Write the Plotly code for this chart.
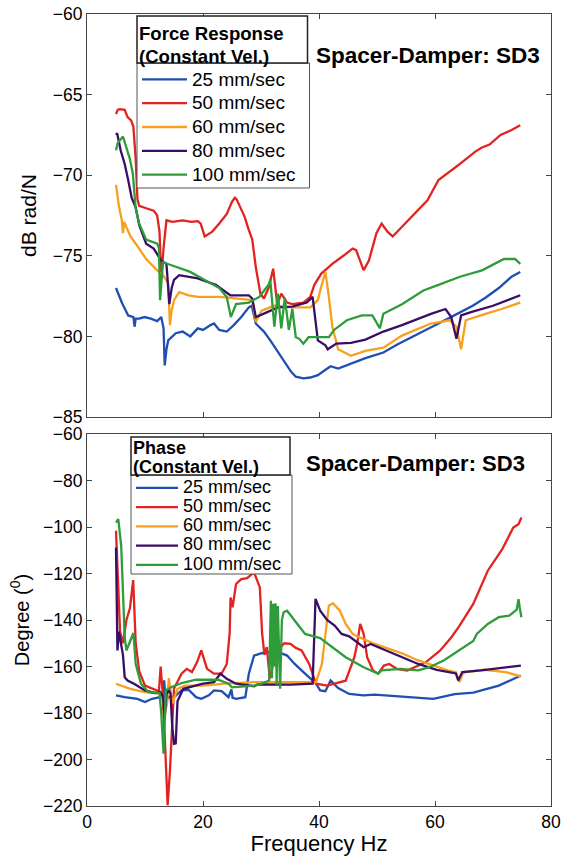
import plotly.graph_objects as go

# ---------------- data ----------------
labels = ["25 mm/sec", "50 mm/sec", "60 mm/sec", "80 mm/sec", "100 mm/sec"]
colors = ["#1f4fb0", "#e2231f", "#f7a01e", "#3a0d68", "#2f9c3a"]

# Force response (dB rad/N)
f_mag_25 = [5.0, 5.4, 6.0, 7.1, 8.0, 8.2, 8.4, 9.0, 9.9, 11.0, 12.1, 12.8, 13.2, 13.4, 13.7, 14.0, 15.3, 16.5, 17.8, 19.1, 20.0, 21.3, 21.9, 22.8, 24.1, 25.3, 26.6, 27.9, 28.4, 29.1, 30.5, 31.6, 33.0, 34.2, 35.2, 36.0, 37.3, 38.5, 39.8, 41.0, 42.0, 43.3, 45.5, 48.0, 51.1, 53.5, 56.2, 58.5, 60.6, 62.5, 64.3, 66.5, 68.7, 71.0, 73.2, 74.7]
mag_25 = [-77.0, -77.4, -77.9, -78.7, -78.8, -79.4, -78.9, -78.9, -78.8, -78.9, -79.05, -78.8, -79.5, -81.8, -80.8, -80.25, -79.8, -79.7, -80.0, -79.5, -79.6, -79.3, -79.2, -79.6, -79.7, -79.3, -78.8, -78.2, -78.1, -79.2, -79.7, -80.25, -81.0, -81.7, -82.2, -82.5, -82.6, -82.55, -82.4, -82.1, -81.85, -82.0, -81.7, -81.35, -81.0, -80.5, -80.0, -79.6, -79.2, -78.85, -78.5, -78.1, -77.6, -77.0, -76.3, -76.0]

f_mag_50 = [5.0, 5.3, 5.6, 6.5, 7.0, 7.6, 8.0, 8.4, 8.7, 9.0, 10.2, 11.5, 12.1, 12.5, 12.8, 13.2, 13.7, 14.7, 16.5, 18.0, 19.1, 19.6, 20.3, 21.6, 22.8, 24.1, 25.0, 25.5, 25.8, 26.3, 27.2, 27.9, 28.5, 29.1, 29.9, 30.5, 31.3, 32.1, 32.8, 33.5, 34.5, 35.4, 37.3, 38.5, 39.2, 40.4, 42.3, 44.2, 45.8, 46.4, 47.1, 47.7, 48.6, 49.9, 50.8, 51.8, 52.7, 54.3, 56.8, 58.7, 60.6, 62.5, 64.3, 66.9, 68.0, 69.4, 71.3, 73.2, 74.7]
mag_50 = [-66.2, -65.95, -65.9, -65.95, -66.4, -66.6, -67.0, -69.0, -71.5, -71.9, -72.05, -72.2, -72.5, -73.5, -76.4, -74.5, -72.8, -72.9, -72.8, -72.9, -72.85, -73.0, -73.8, -73.5, -73.0, -72.4, -71.65, -71.4, -71.5, -71.9, -72.6, -73.4, -74.0, -75.7, -77.35, -77.65, -77.0, -75.8, -78.0, -77.35, -77.9, -78.0, -77.9, -77.55, -76.8, -76.1, -75.5, -75.0, -74.55, -74.65, -75.3, -75.9, -75.3, -73.6, -73.0, -73.5, -73.8, -73.2, -72.2, -71.55, -70.3, -69.8, -69.3, -68.55, -68.3, -68.1, -67.5, -67.2, -66.9]

f_mag_60 = [5.0, 5.3, 5.5, 6.0, 6.2, 6.4, 6.8, 7.5, 8.4, 10.2, 12.1, 13.1, 14.0, 14.3, 14.6, 15.0, 15.9, 17.5, 19.1, 22.8, 26.0, 28.5, 29.1, 30.1, 32.3, 35.4, 38.5, 39.8, 40.4, 41.1, 41.7, 42.3, 43.3, 45.5, 48.0, 51.1, 54.3, 57.0, 59.3, 62.5, 63.7, 64.5, 65.3, 68.7, 71.5, 74.7]
mag_60 = [-70.6, -71.6, -71.9, -72.8, -73.6, -72.9, -73.2, -73.8, -74.25, -75.2, -75.9, -76.2, -76.7, -79.3, -78.4, -77.75, -77.25, -77.45, -77.55, -77.55, -77.65, -77.75, -79.1, -78.4, -78.1, -78.2, -78.2, -77.75, -76.9, -76.0, -77.55, -79.4, -80.8, -81.2, -80.9, -80.7, -79.95, -79.55, -79.2, -79.0, -79.4, -80.8, -79.0, -78.6, -78.3, -77.9]

f_mag_80 = [5.0, 5.2, 5.8, 6.5, 7.1, 7.7, 8.4, 9.0, 10.2, 11.5, 12.8, 13.7, 14.2, 14.6, 15.0, 15.9, 19.1, 22.2, 24.7, 27.9, 28.5, 29.1, 30.4, 32.9, 35.4, 37.9, 38.9, 39.2, 39.8, 41.1, 41.5, 43.0, 45.5, 48.0, 51.1, 54.3, 59.3, 61.8, 62.8, 63.7, 64.5, 66.2, 70.0, 74.7]
mag_80 = [-67.5, -67.4, -68.45, -69.3, -70.3, -71.4, -72.0, -73.1, -74.25, -74.55, -75.3, -75.5, -78.0, -77.0, -76.5, -76.2, -76.4, -76.8, -77.45, -77.45, -77.65, -78.8, -78.6, -78.2, -78.15, -77.9, -77.55, -78.6, -80.25, -80.55, -80.8, -80.45, -80.4, -80.2, -79.7, -79.3, -78.6, -78.3, -78.8, -80.15, -78.7, -78.5, -78.1, -77.45]

f_mag_100 = [5.0, 5.3, 6.2, 6.8, 7.4, 7.9, 8.4, 9.0, 10.2, 12.1, 12.4, 12.6, 12.9, 13.1, 14.7, 17.8, 20.3, 22.8, 24.1, 24.8, 25.7, 27.9, 29.7, 31.3, 31.6, 32.3, 32.9, 33.5, 34.1, 34.8, 35.4, 36.0, 36.6, 37.3, 38.2, 39.8, 41.7, 42.6, 44.8, 47.4, 49.2, 50.5, 51.1, 54.3, 58.0, 60.6, 64.3, 68.1, 71.9, 73.8, 74.7]
mag_100 = [-68.45, -68.0, -67.6, -68.35, -69.0, -69.9, -72.07, -73.0, -74.0, -74.25, -74.5, -77.75, -76.0, -75.4, -75.6, -76.0, -76.5, -77.0, -77.55, -78.8, -78.0, -77.9, -77.55, -76.8, -76.5, -79.4, -77.35, -79.5, -77.6, -79.6, -78.3, -80.05, -80.15, -80.45, -80.05, -80.05, -80.05, -79.6, -79.0, -78.7, -78.7, -79.5, -78.6, -78.0, -77.15, -76.8, -76.3, -75.9, -75.2, -75.2, -75.5]

# Phase (degree)
f_ph_25 = [5.0, 6.5, 8.7, 10.0, 11.2, 12.5, 13.0, 13.3, 13.6, 14.0, 15.0, 16.3, 17.5, 18.8, 19.7, 21.0, 21.9, 23.2, 24.4, 24.9, 25.1, 25.7, 27.3, 27.9, 28.8, 30.1, 32.6, 34.5, 35.8, 37.6, 39.5, 40.2, 41.1, 42.0, 43.3, 45.2, 47.7, 49.6, 54.0, 59.7, 63.4, 66.6, 71.0, 74.8]
ph_25 = [-172.4, -173.2, -173.9, -175.3, -173.9, -173.2, -173.0, -166.0, -176.0, -173.0, -173.2, -170.3, -170.0, -173.2, -173.9, -172.4, -170.3, -170.6, -173.2, -169.8, -173.5, -173.9, -173.2, -163.1, -155.3, -154.3, -153.4, -155.3, -158.9, -163.1, -167.4, -170.3, -170.6, -166.0, -169.3, -171.8, -172.4, -172.1, -173.0, -173.9, -171.9, -171.2, -168.2, -163.9]

f_ph_50 = [5.0, 5.3, 5.7, 6.2, 6.8, 7.4, 7.96, 8.4, 9.0, 10.0, 11.8, 12.4, 12.7, 13.0, 13.4, 13.9, 14.3, 14.7, 15.0, 16.3, 17.2, 18.1, 19.0, 19.7, 20.7, 21.9, 23.2, 24.1, 24.6, 24.75, 25.1, 25.7, 26.6, 27.6, 28.8, 29.8, 30.2, 30.6, 31.0, 31.5, 32.0, 32.6, 33.3, 34.0, 35.1, 36.0, 37.0, 38.3, 38.9, 39.5, 41.4, 44.6, 46.1, 46.6, 47.1, 47.7, 48.3, 49.3, 50.2, 51.2, 52.1, 53.4, 55.2, 58.4, 60.9, 62.8, 64.1, 66.6, 69.1, 71.6, 73.5, 74.4, 74.9]
ph_50 = [-101.6, -120.0, -145.0, -150.0, -140.0, -135.0, -122.8, -150.0, -162.0, -168.2, -170.3, -170.7, -160.0, -170.0, -190.0, -219.7, -205.0, -180.3, -169.5, -163.1, -161.0, -162.4, -158.0, -153.1, -161.0, -163.1, -163.1, -158.9, -145.6, -130.3, -134.5, -124.5, -122.4, -122.0, -119.5, -126.0, -146.0, -155.0, -151.7, -165.0, -160.0, -148.0, -152.0, -150.0, -150.3, -152.0, -153.1, -158.9, -163.1, -167.4, -168.2, -166.1, -156.0, -150.0, -141.7, -146.0, -156.0, -161.7, -163.1, -159.6, -158.9, -161.0, -161.7, -158.2, -153.1, -147.5, -143.0, -133.1, -118.8, -109.5, -100.2, -98.8, -95.9]

f_ph_60 = [5.0, 7.45, 10.0, 12.5, 13.0, 13.4, 13.8, 14.1, 14.4, 14.7, 15.6, 16.9, 20.0, 23.8, 28.8, 35.1, 39.5, 40.5, 41.1, 41.7, 42.4, 43.6, 44.6, 45.8, 47.1, 49.6, 52.1, 54.6, 57.1, 59.7, 62.2, 63.6, 64.2, 64.8, 65.3, 68.5, 72.2, 74.8]
ph_60 = [-167.4, -169.6, -171.0, -171.7, -173.0, -180.0, -176.0, -165.0, -170.0, -176.0, -169.6, -168.2, -168.2, -167.4, -166.7, -166.7, -166.7, -158.9, -145.6, -133.8, -132.8, -136.0, -141.7, -146.0, -147.6, -150.3, -152.4, -154.6, -157.4, -159.6, -161.7, -162.5, -166.7, -163.0, -162.4, -161.4, -162.4, -164.2]

f_ph_80 = [5.0, 5.1, 5.25, 5.5, 5.9, 6.2, 6.5, 7.0, 8.1, 10.0, 11.8, 12.6, 13.1, 13.4, 13.7, 14.1, 14.4, 14.7, 15.0, 15.3, 15.6, 16.6, 20.0, 21.9, 23.0, 24.1, 25.7, 28.8, 29.4, 35.1, 38.9, 39.2, 39.4, 40.2, 41.4, 42.7, 43.9, 45.2, 47.7, 48.9, 51.5, 54.0, 57.1, 60.3, 62.8, 63.6, 64.0, 64.7, 67.9, 71.6, 74.8]
ph_80 = [-108.8, -130.0, -153.1, -145.0, -150.3, -155.0, -164.6, -166.0, -167.4, -170.3, -171.4, -171.0, -173.0, -182.0, -172.0, -170.0, -171.7, -186.0, -193.2, -193.0, -175.0, -169.6, -167.4, -166.7, -163.1, -165.3, -167.4, -168.5, -167.7, -167.8, -167.4, -150.0, -130.9, -136.0, -140.0, -142.4, -146.0, -147.0, -151.7, -150.3, -153.1, -155.9, -158.9, -161.4, -162.4, -163.0, -166.0, -162.4, -161.7, -160.6, -159.6]

f_ph_100 = [5.0, 5.4, 5.9, 6.2, 6.5, 6.8, 7.45, 8.0, 8.4, 9.3, 10.6, 12.5, 12.8, 13.0, 13.2, 13.6, 14.4, 16.3, 18.8, 22.6, 24.4, 25.0, 28.8, 30.1, 31.4, 31.7, 31.9, 32.1, 32.3, 32.5, 32.7, 32.9, 33.1, 33.3, 33.6, 33.9, 34.5, 35.8, 37.6, 40.2, 42.7, 44.6, 47.7, 50.2, 50.8, 54.0, 57.1, 59.0, 61.5, 64.1, 66.6, 67.2, 69.1, 71.0, 72.8, 74.1, 74.4, 74.6, 74.9]
ph_100 = [-98.1, -96.6, -108.3, -130.0, -147.4, -153.1, -149.0, -145.6, -158.9, -167.4, -171.0, -171.4, -180.0, -191.8, -197.5, -170.3, -169.0, -167.1, -165.7, -165.7, -167.4, -169.0, -168.2, -167.4, -166.0, -131.7, -165.0, -133.0, -160.0, -132.8, -168.0, -134.0, -150.0, -169.6, -140.0, -136.7, -136.0, -140.3, -146.0, -147.8, -152.5, -156.0, -160.3, -163.1, -161.7, -161.0, -161.7, -160.3, -157.4, -153.1, -149.0, -146.0, -141.7, -138.8, -138.1, -135.5, -131.0, -134.5, -138.8]

mag_f = [f_mag_25, f_mag_50, f_mag_60, f_mag_80, f_mag_100]
mag_v = [mag_25, mag_50, mag_60, mag_80, mag_100]
ph_f = [f_ph_25, f_ph_50, f_ph_60, f_ph_80, f_ph_100]
ph_v = [ph_25, ph_50, ph_60, ph_80, ph_100]

x_ticks = [0, 20, 40, 60, 80]
mag_ticks = [-85, -80, -75, -70, -65, -60]
ph_ticks = [-220, -200, -180, -160, -140, -120, -100, -80, -60]

# ---------------- figure ----------------
FONT = "Liberation Sans, Arial, Helvetica, sans-serif"
W, H = 571, 856
ML, MR, MT, MB = 87, 20, 14, 50
PW, PH = W - ML - MR, H - MT - MB

def px(x):
    return (x - ML) / PW

def py(y):
    return (H - MB - y) / PH

def big(text, size):
    return '<span style="font-size:%gpx">%s</span>' % (size, text)

fig = go.Figure()
for i in range(5):
    fig.add_trace(go.Scatter(
        x=mag_f[i], y=mag_v[i], mode="lines", xaxis="x", yaxis="y",
        line=dict(color=colors[i], width=2.3), legend="legend",
        name=big(labels[i], 19)))
for i in range(5):
    fig.add_trace(go.Scatter(
        x=ph_f[i], y=ph_v[i], mode="lines", xaxis="x2", yaxis="y2",
        line=dict(color=colors[i], width=2.3), legend="legend2",
        name=big(labels[i], 18)))

axis_common = dict(showline=True, linecolor="#444", linewidth=1, mirror="ticks",
                   ticks="inside", ticklen=5, tickcolor="#444", showgrid=False,
                   zeroline=False, automargin=False,
                   tickfont=dict(family=FONT, size=17.5, color="black"))

top_bottom = py(417)
bot_top = py(434)

fig.update_layout(
    width=W, height=H, autosize=False,
    margin=dict(l=ML, r=MR, t=MT, b=MB),
    paper_bgcolor="white", plot_bgcolor="white",
    font=dict(family=FONT, color="black"),
    xaxis=dict(axis_common, domain=[0, 1], anchor="y", range=[0, 80],
               tickvals=x_ticks, showticklabels=False),
    yaxis=dict(axis_common, domain=[top_bottom, 1], anchor="x", range=[-85, -60],
               tickvals=mag_ticks,
               title=dict(text="dB rad/N", font=dict(family=FONT, size=21), standoff=10)),
    xaxis2=dict(axis_common, domain=[0, 1], anchor="y2", range=[0, 80],
                tickvals=x_ticks,
                title=dict(text="Frequency Hz", font=dict(family=FONT, size=22), standoff=8)),
    yaxis2=dict(axis_common, domain=[0, bot_top], anchor="x2", range=[-220, -60],
                tickvals=ph_ticks,
                title=dict(text="Degree (<sup>0</sup>)", font=dict(family=FONT, size=20), standoff=8)),
    legend=dict(x=px(137), y=py(16.5), xanchor="left", yanchor="top",
                bgcolor="rgba(0,0,0,0)", borderwidth=0,
                font=dict(family=FONT, size=16, color="black"),
                itemwidth=45,
                title=dict(text=big("<b>Force Response<br>(Constant Vel.)</b>", 18.6),
                           font=dict(family=FONT, size=17.7, color="black"))),
    legend2=dict(x=px(131), y=py(435.5), xanchor="left", yanchor="top",
                 bgcolor="rgba(0,0,0,0)", borderwidth=0,
                 font=dict(family=FONT, size=12.5, color="black"),
                 itemwidth=42,
                 title=dict(text=big("<b>Phase<br>(Constant Vel.)</b>", 18),
                            font=dict(family=FONT, size=14.5, color="black"))),
    showlegend=True,
)

# legend frames (title box + entries box), drawn above the curves
shapes = []
for (x0, x1, y0, y1, y2) in [(137, 309.5, 16, 63, 188), (131, 292, 437, 475, 574)]:
    shapes.append(dict(type="rect", xref="paper", yref="paper", layer="above",
                       x0=px(x0), x1=px(x1), y0=py(y1), y1=py(y2),
                       fillcolor="white", line=dict(color="#555", width=1)))
    shapes.append(dict(type="rect", xref="paper", yref="paper", layer="above",
                       x0=px(x0), x1=px(x1 - 2), y0=py(y0), y1=py(y1),
                       fillcolor="white", line=dict(color="#222", width=1.5)))
fig.update_layout(shapes=shapes)

fig.add_annotation(text="<b>Spacer-Damper: SD3</b>", xref="paper", yref="paper",
                   x=px(427.5), y=py(55), xanchor="center", yanchor="middle",
                   showarrow=False, font=dict(family=FONT, size=22.5, color="black"))
fig.add_annotation(text="<b>Spacer-Damper: SD3</b>", xref="paper", yref="paper",
                   x=px(415), y=py(463), xanchor="center", yanchor="middle",
                   showarrow=False, font=dict(family=FONT, size=22, color="black"))

fig.write_html("out.html")
